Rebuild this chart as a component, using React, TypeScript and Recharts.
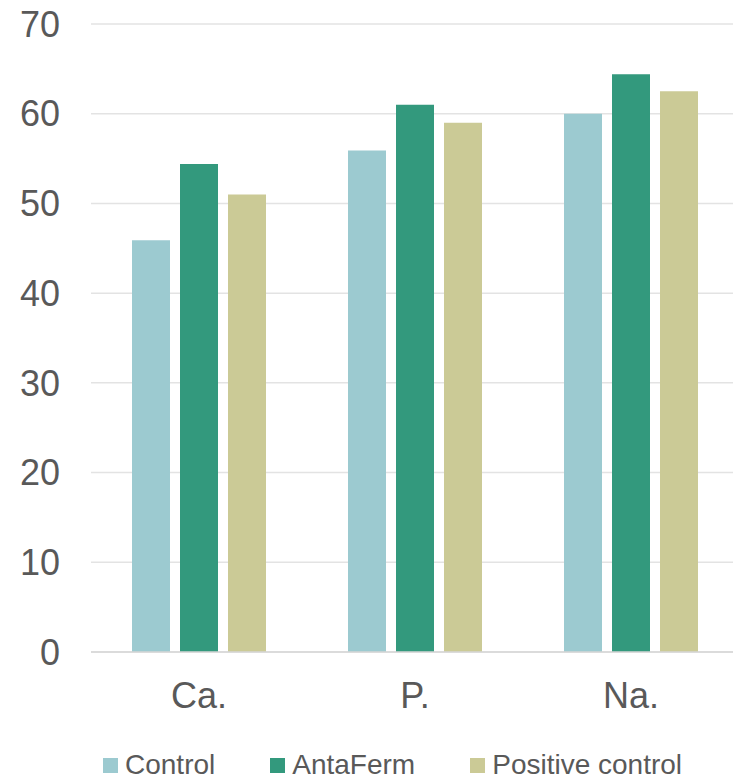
import { BarChart, Bar, XAxis, YAxis, CartesianGrid, Legend } from 'recharts';

const categories = ['Ca.', 'P.', 'Na.'];
const controlValues = [45.9, 55.9, 60.0];
const antaFermValues = [54.4, 61.0, 64.4];
const positiveValues = [51.0, 59.0, 62.5];
const yTicks = [0, 10, 20, 30, 40, 50, 60, 70];

const series = [
  { key: 'control', name: 'Control', color: '#9CCAD0' },
  { key: 'antaFerm', name: 'AntaFerm', color: '#33997D' },
  { key: 'positive', name: 'Positive control', color: '#CBCA96' },
];

const data = categories.map((cat, i) => ({
  cat,
  control: controlValues[i],
  antaFerm: antaFermValues[i],
  positive: positiveValues[i],
}));

const FONT = '"Liberation Sans", Arial, sans-serif';
const TEXT = '#595959';

// legend drawn by hand so the squares and spacing match the original
function LegendContent() {
  return (
    <div style={{ display: 'flex', alignItems: 'center', height: 40, paddingTop: 6, boxSizing: 'border-box', paddingLeft: 103, fontFamily: FONT, fontSize: 28, color: TEXT }}>
      {series.map((s, i) => (
        <div key={s.key} style={{ display: 'flex', alignItems: 'center', marginRight: i < series.length - 1 ? 55 : 0 }}>
          <span style={{ width: 15, height: 15, background: s.color, marginRight: 7, display: 'inline-block' }} />
          <span>{s.name}</span>
        </div>
      ))}
    </div>
  );
}

export default function App() {
  return (
    <div style={{ position: 'absolute', left: 0, top: 0, width: 733, height: 782, overflow: 'hidden', background: '#fff' }}>
      <BarChart
        width={740}
        height={782}
        data={data}
        margin={{ top: 24, right: 1, left: 0, bottom: 0 }}
        barCategoryGap={41}
        barGap={10}
      >
        <CartesianGrid vertical={false} stroke="#E3E3E3" strokeWidth={1.5} />
        <XAxis
          dataKey="cat"
          height={90}
          tickSize={0}
          tickMargin={30}
          axisLine={{ stroke: '#D6D6D6', strokeWidth: 1.5 }}
          tick={{ fill: TEXT, fontSize: 36, fontFamily: FONT }}
        />
        <YAxis
          width={91}
          domain={[0, 70]}
          ticks={yTicks}
          axisLine={false}
          tickLine={false}
          tickSize={0}
          tickMargin={31}
          tick={{ fill: TEXT, fontSize: 36, fontFamily: FONT }}
        />
        <Legend verticalAlign="bottom" content={<LegendContent />} />
        {series.map((s) => (
          <Bar key={s.key} dataKey={s.key} name={s.name} fill={s.color} isAnimationActive={false} />
        ))}
      </BarChart>
    </div>
  );
}
